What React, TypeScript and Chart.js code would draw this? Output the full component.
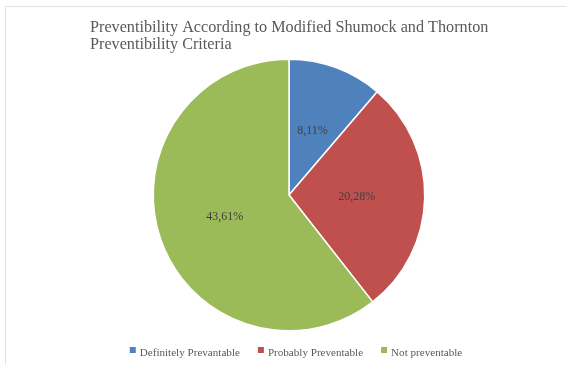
import React, { useEffect, useRef } from "react";
import { Chart, registerables } from "chart.js";

Chart.register(...registerables);

const categories = ["Definitely Prevantable", "Probably Preventable", "Not preventable"];
const shares = [8.11, 20.28, 43.61];
const shareLabels = ["8,11%", "20,28%", "43,61%"];
const sliceColors = ["#4F81BD", "#C0504D", "#9BBB59"];
const titleLines = [
  "Preventibility According to Modified Shumock and Thornton",
  "Preventibility Criteria",
];

const SERIF = "'Liberation Serif'";

// Frame, two-line left-aligned title, in-slice value labels and the bottom legend
const decorations = {
  id: "decorations",
  afterDraw(chart: any) {
    const ctx = chart.ctx as CanvasRenderingContext2D;
    ctx.save();

    // faint outer frame
    ctx.strokeStyle = "#e3e3e3";
    ctx.lineWidth = 1;
    ctx.beginPath();
    ctx.moveTo(5.5, 365);
    ctx.lineTo(5.5, 6.5);
    ctx.lineTo(566, 6.5);
    ctx.stroke();

    // title
    ctx.fillStyle = "#595959";
    ctx.font = "16.2px " + SERIF;
    ctx.textAlign = "left";
    ctx.textBaseline = "alphabetic";
    titleLines.forEach((line, i) => ctx.fillText(line, 90, 32 + i * 17));

    // value labels at each slice's centre point
    const meta = chart.getDatasetMeta(0);
    ctx.fillStyle = "#404040";
    ctx.font = "12px " + SERIF;
    ctx.textAlign = "center";
    ctx.textBaseline = "middle";
    meta.data.forEach((arc: any, i: number) => {
      const p = arc.tooltipPosition();
      ctx.fillText(shareLabels[i], p.x, p.y);
    });

    // legend
    ctx.font = "11.1px " + SERIF;
    ctx.textAlign = "left";
    ctx.textBaseline = "alphabetic";
    const box = 6;
    const gap = 4;
    const spacing = 18;
    const widths = categories.map((c) => box + gap + ctx.measureText(c).width);
    const total = widths.reduce((a, b) => a + b, 0) + spacing * (categories.length - 1);
    let x = 296 - total / 2;
    const baseline = 356;
    categories.forEach((c, i) => {
      ctx.fillStyle = sliceColors[i];
      ctx.fillRect(x, baseline - 9, box, box);
      ctx.fillStyle = "#595959";
      ctx.fillText(c, x + box + gap, baseline);
      x += widths[i] + spacing;
    });

    ctx.restore();
  },
};

export default function App() {
  const canvasRef = useRef<HTMLCanvasElement | null>(null);

  useEffect(() => {
    document.body.style.margin = "0";
    const canvas = canvasRef.current;
    if (!canvas) return;
    const chart = new Chart(canvas, {
      type: "pie",
      data: {
        labels: categories,
        datasets: [
          {
            data: shares,
            backgroundColor: sliceColors,
            borderColor: "#ffffff",
            borderWidth: 1.5,
            hoverOffset: 0,
          },
        ],
      },
      options: {
        responsive: false,
        animation: false,
        events: [],
        layout: {
          padding: { top: 58.5, bottom: 33.5, left: 152.5, right: 140.5 },
        },
        plugins: {
          legend: { display: false },
          title: { display: false },
          tooltip: { enabled: false },
        },
      },
      plugins: [decorations],
    });
    return () => chart.destroy();
  }, []);

  return (
    <div style={{ width: 566, height: 365, background: "#ffffff" }}>
      <canvas ref={canvasRef} width={566} height={365} style={{ display: "block" }} />
    </div>
  );
}
